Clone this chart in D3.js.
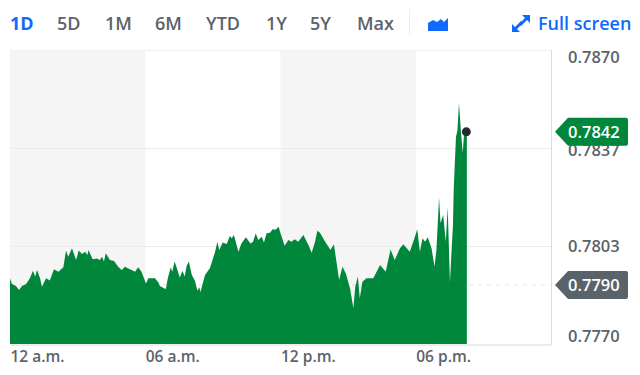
<!DOCTYPE html>
<html>
<head>
<meta charset="utf-8">
<script src="https://cdn.jsdelivr.net/npm/d3@7"></script>
<style>
html, body { margin: 0; padding: 0; background: #fff; }
svg { display: block; }
text { font-family: "Open Sans", sans-serif; }
</style>
</head>
<body>
<script>
// minutes after midnight
var minutes = [0,5,16,24,32,43,53,61,67,72,80,85,96,106,117,129,142,149,155,165,176,183,192,200,206,209,220,231,239,245,250,255,266,277,288,297,306,319,333,341,350,362,368,386,395,
  399,410,415,420,428,432,438,443,452,459,465,470,476,484,492,499,504,507,519,532,546,552,557,566,577,585,590,596,608,616,628,640,647,654,661,670,676,683,692,699,707,715,720,731,741,749,758,767,781,794,803,812,818,825,
  836,844,853,862,867,876,885,894,905,914,919,926,931,938,949,967,985,1000,1013,1024,1038,1047,1064,1075,1084,1091,1098,1105,1112,1122,1130,1135,1142,1146,1153,1160,1165,1171,1179,1181,1187,1191,1195,1200,1205,1208,1212,1216]

var prices = [.77918,.77898,.77891,.77877,.77891,.77898,.77918,.77944,.77924,.77947,.77918,.77889,.77918,.77910,.77949,.77941,.77956,.78014,.77993,.78022,.77981,.78014,.78002,.78010,.77999,.78016,.77984,.77987,.77981,.77993,.77976,.78005,.77981,.77978,.77958,.77947,.77958,.77949,.77941,.77956,.77941,.77900,.77918,.77918,.77903,
  .77891,.77883,.77881,.77918,.77956,.77941,.77976,.77958,.77921,.77944,.77924,.77961,.77976,.77929,.77910,.77875,.77887,.77870,.77929,.77953,.78010,.78045,.78016,.78042,.78037,.78065,.78057,.78068,.78010,.78039,.78060,.78039,.78045,.78074,.78051,.78062,.78042,.78074,.78076,.78088,.78086,.78097,.78074,.78031,.78051,.78045,.78053,.78045,.78068,.78034,.78007,.78045,.78083,.78076,
  .78051,.78034,.78016,.78036,.77993,.77912,.77958,.77935,.77883,.77814,.77889,.77924,.77848,.77906,.77918,.77918,.77964,.77941,.78018,.77981,.78022,.78036,.78010,.78051,.78088,.78010,.78057,.78045,.78060,.78022,.77958,.78016,.78197,.78109,.78138,.78045,.78165,.77906,.78103,.78224,.78408,.78432,.78526,.78432,.78353,.78408,.78422,.78426]

var rangeTabs = ["1D","5D","1M","6M","YTD","1Y","5Y","Max"]
var tabX = [10,57,105,155,206,266,310,357]

var timeTicks = [0,360,720,1080]
var timeLabels = ["12 a.m.","06 a.m.","12 p.m.","06 p.m."]
var priceTicks = [0.7870,0.7837,0.7803,0.7770]
var gridPrices = [0.7837,0.7803]
var bands = [[0,360],[720,1080]]

var prevClose = 0.77895
var prevCloseLabel = "0.7790"
var lastLabel = "0.7842"

var blue = "#0f69ff", green = "#00873c", grey = "#5b636a"

var svg = d3.select("body").append("svg")
    .attr("width", 640)
    .attr("height", 375)

var x = d3.scaleLinear().domain([0,1440]).range([10,551])
var y = d3.scaleLinear().domain([0.7769,0.7871]).range([344,50])

// shaded bands
svg.selectAll(".band")
  .data(bands)
  .enter().append("rect")
    .attr("class","band")
    .attr("x", function(d){ return x(d[0]) })
    .attr("y", 50)
    .attr("width", function(d){ return x(d[1]) - x(d[0]) })
    .attr("height", 294)
    .attr("fill","#f5f5f5")

// frame
svg.append("path")
    .attr("d","M10,50.5H551.5")
    .attr("fill","none")
    .attr("stroke","#f0f1f5")
svg.append("path")
    .attr("d","M551.5,50V345H10")
    .attr("fill","none")
    .attr("stroke","#d9dbe6")

// grid
svg.selectAll(".grid")
  .data(gridPrices)
  .enter().append("line")
    .attr("class","grid")
    .attr("x1",10).attr("x2",551)
    .attr("y1", function(d){ return Math.round(y(d)) + .5 })
    .attr("y2", function(d){ return Math.round(y(d)) + .5 })
    .attr("stroke","#ebebeb")

// area
var area = d3.area()
    .x(function(d){ return x(d) })
    .y0(y.range()[0])
    .y1(function(d,i){ return y(prices[i]) })

svg.append("path")
    .attr("d", area(minutes))
    .attr("fill", green)

// previous close line
svg.append("line")
    .attr("x1",10).attr("x2",551)
    .attr("y1", y(prevClose)).attr("y2", y(prevClose))
    .attr("stroke","#000")
    .attr("stroke-opacity",.1)
    .attr("stroke-dasharray","4,5")

// last price dot
svg.append("circle")
    .attr("cx", x(minutes[minutes.length-1]) - .5)
    .attr("cy", y(prices[prices.length-1]))
    .attr("r", 4.5)
    .attr("fill","#232a31")

// x axis
var xAxis = d3.axisBottom(x)
    .tickValues(timeTicks)
    .tickSize(0)
    .tickFormat(function(d,i){ return timeLabels[i] })

var gx = svg.append("g")
    .attr("transform","translate(0,345)")
    .call(xAxis)
gx.select(".domain").remove()
gx.selectAll("text")
    .attr("y",6)
    .attr("dy","0.71em")
    .attr("text-anchor","start")
    .attr("fill",grey)
    .attr("font-size",15.5)
    .attr("font-weight",600)

// y axis, top and bottom labels are pushed inside the frame
var yAxis = d3.axisRight(y)
    .tickValues(priceTicks)
    .tickSize(0)
    .tickFormat(d3.format(".4f"))

var gy = svg.append("g")
    .attr("transform","translate(568,0)")
    .call(yAxis)
gy.select(".domain").remove()
gy.selectAll("text")
    .attr("x",0)
    .attr("y", function(d){ return Math.min(336, Math.max(57, d == 0.7837 ? y(d)+2 : y(d))) - y(d) })
    .attr("fill",grey)
    .attr("font-size",16.5)
    .attr("font-weight",600)

// price tags
function tag(cy, color, label){
    svg.append("path")
        .attr("d","M555," + cy + "L568," + (cy-14) + "H626q2,0 2,2V" + (cy+12) + "q0,2 -2,2H568Z")
        .attr("fill",color)
    svg.append("text")
        .attr("x",568)
        .attr("y",cy)
        .attr("dy","0.35em")
        .attr("fill","#fff")
        .attr("font-size",16.5)
        .attr("font-weight",600)
        .text(label)
}
tag(y(prices[prices.length-1]), green, lastLabel)
tag(y(prevClose), grey, prevCloseLabel)

// range tabs
svg.selectAll(".tab")
  .data(rangeTabs)
  .enter().append("text")
    .attr("class","tab")
    .attr("x", function(d,i){ return tabX[i] })
    .attr("y", 30)
    .attr("font-size",18)
    .attr("font-weight", function(d,i){ return i == 0 ? 700 : 600 })
    .attr("fill", function(d,i){ return i == 0 ? blue : grey })
    .text(function(d){ return d })

svg.append("line")
    .attr("x1",409.5).attr("x2",409.5)
    .attr("y1",9).attr("y2",35)
    .attr("stroke","#eceef0")

// mountain icon
svg.append("path")
    .attr("d","M428,23L433,20L437,22L441,19L444,22L448,18V31H428Z")
    .attr("fill",blue)

// full screen icon
svg.append("path")
    .attr("d","M522,15H530V23L527,20L521,26L519,24L525,18ZM520,32H512V24L515,27L521,21L523,23L517,29Z")
    .attr("fill",blue)

svg.append("text")
    .attr("x",538)
    .attr("y",30)
    .attr("font-size",18)
    .attr("font-weight",600)
    .attr("fill",blue)
    .text("Full screen")
</script>
</body>
</html>
